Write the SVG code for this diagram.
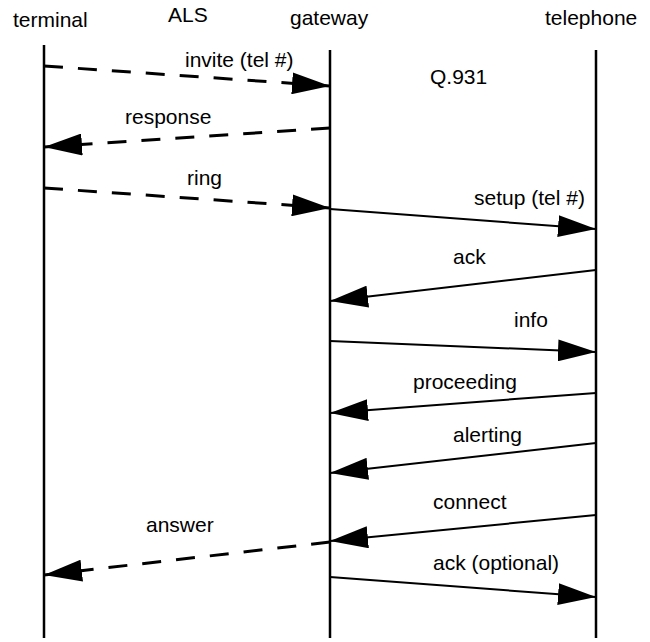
<svg xmlns="http://www.w3.org/2000/svg" width="650" height="642" viewBox="0 0 650 642">
<style>
text{font-family:"Liberation Sans",Arial,sans-serif;font-size:21px;fill:#000}
.life{stroke:#000;stroke-width:2.5;fill:none}
.msg{stroke:#000;stroke-width:2;fill:none;marker-end:url(#ah)}
.dash{stroke:#000;stroke-width:3;fill:none;stroke-dasharray:19 15;marker-end:url(#ah)}
</style>
<defs>
<marker id="ah" markerUnits="userSpaceOnUse" markerWidth="38" markerHeight="22" refX="38" refY="11" orient="auto">
<path d="M0,0 L38,11 L0,22 z" fill="#000"/>
</marker>
</defs>
<rect width="650" height="642" fill="#fff"/>
<g id="terminal">
<line class="life" x1="44" y1="45" x2="44" y2="638"/>
<text x="13" y="27">terminal</text>
</g>
<g id="als">
<text x="168" y="22">ALS</text>
</g>
<g id="gateway">
<line class="life" x1="330" y1="50" x2="330" y2="638"/>
<text x="290" y="25">gateway</text>
</g>
<g id="telephone">
<line class="life" x1="596" y1="50" x2="596" y2="638"/>
<text x="545" y="25">telephone</text>
</g>
<text x="430" y="84">Q.931</text>
<g id="connectors">
<line class="dash" x1="44" y1="66" x2="330" y2="86"/>
<text x="185" y="67">invite (tel #)</text>
<line class="dash" x1="330" y1="128" x2="44" y2="147"/>
<text x="125" y="124">response</text>
<line class="dash" x1="44" y1="188" x2="330" y2="208"/>
<text x="187" y="185">ring</text>
<line class="msg" x1="330" y1="209" x2="596" y2="229"/>
<text x="474" y="205">setup (tel #)</text>
<line class="msg" x1="596" y1="270" x2="330" y2="301"/>
<text x="453" y="264">ack</text>
<line class="msg" x1="330" y1="341" x2="596" y2="352"/>
<text x="514" y="327">info</text>
<line class="msg" x1="596" y1="393" x2="330" y2="413"/>
<text x="413" y="389">proceeding</text>
<line class="msg" x1="596" y1="443" x2="330" y2="473"/>
<text x="453" y="442">alerting</text>
<line class="msg" x1="596" y1="515" x2="330" y2="541"/>
<text x="433" y="509">connect</text>
<line class="dash" x1="330" y1="542" x2="44" y2="575"/>
<text x="146" y="532">answer</text>
<line class="msg" x1="330" y1="577" x2="596" y2="597"/>
<text x="433" y="570">ack (optional)</text>
</g>
</svg>
